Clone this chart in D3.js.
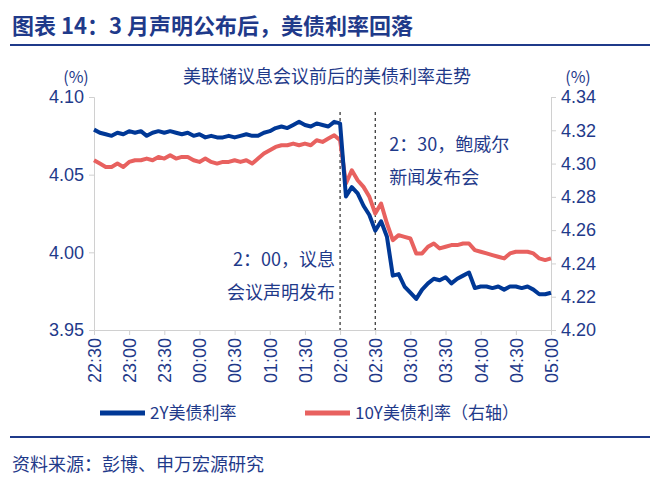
<!DOCTYPE html>
<html><head><meta charset="utf-8">
<script src="https://cdn.jsdelivr.net/npm/d3@7"></script>
<style>body{margin:0;background:#fff}svg{font-family:"Noto Sans CJK SC","Noto Sans",sans-serif}</style>
</head><body><div id="chart"></div>
<script>
// 5-minute samples, 22:30 -> 05:00
const startMin = 22 * 60 + 30;
const stepMin = 5;
const y2 = [4.079,4.077,4.076,4.075,4.077,4.076,4.078,4.077,4.078,4.075,4.077,4.078,4.077,
  4.078,4.077,4.076,4.077,4.075,4.076,4.074,4.075,4.074,4.074,4.075,4.074,
  4.075,4.076,4.075,4.075,4.077,4.078,4.080,4.081,4.080,4.082,4.084,4.082,
  4.081,4.083,4.082,4.081,4.084,4.083,
  4.036,4.042,4.038,4.030,4.024,4.014,4.020,4.010,3.985,3.986,3.978,3.974,3.970,3.976,3.980,3.983,3.982,
  3.984,3.980,3.983,3.985,3.987,3.977,3.978,3.978,3.977,3.978,3.976,3.978,3.978,
  3.977,3.978,3.976,3.973,3.973,3.974];
const y10 = [4.302,4.300,4.298,4.298,4.300,4.298,4.301,4.302,4.302,4.303,4.302,4.304,4.303,
  4.305,4.303,4.304,4.304,4.302,4.301,4.303,4.301,4.300,4.301,4.301,4.302,
  4.301,4.302,4.300,4.303,4.306,4.308,4.310,4.311,4.311,4.312,4.311,4.312,
  4.311,4.314,4.313,4.315,4.317,4.314,
  4.288,4.296,4.290,4.286,4.280,4.270,4.276,4.264,4.254,4.257,4.256,4.255,4.246,4.246,4.250,4.252,4.249,
  4.250,4.251,4.251,4.252,4.252,4.248,4.247,4.246,4.245,4.244,4.243,4.246,4.247,
  4.247,4.247,4.246,4.243,4.242,4.243];
const xTicks = ["22:30","23:00","23:30","00:00","00:30","01:00","01:30","02:00","02:30","03:00","03:30","04:00","04:30","05:00"];
const leftTicks = [3.95, 4.00, 4.05, 4.10];
const rightTicks = [4.20, 4.22, 4.24, 4.26, 4.28, 4.30, 4.32, 4.34];
const events = [{t: 210, lines: ["2：00，议息", "会议声明发布"], side: "left"},
                {t: 240, lines: ["2：30，鲍威尔", "新闻发布会"], side: "right"}];

const W = 659, H = 490, navy = "#1F3A8A", blue = "#003896", red = "#E8615F";
const svg = d3.select("#chart").append("svg").attr("width", W).attr("height", H);

svg.append("text").attr("x", 12).attr("y", 34).text("图表 14：3 月声明公布后，美债利率回落")
  .attr("fill", navy).style("font-size", "22px").style("font-weight", "bold");
svg.append("line").attr("x1", 10).attr("x2", 650).attr("y1", 45).attr("y2", 45).attr("stroke", navy).attr("stroke-width", 2);
svg.append("line").attr("x1", 10).attr("x2", 650).attr("y1", 437).attr("y2", 437).attr("stroke", navy).attr("stroke-width", 2);
svg.append("text").attr("x", 12).attr("y", 471).text("资料来源：彭博、申万宏源研究")
  .attr("fill", navy).style("font-size", "18px");

const x = d3.scaleLinear().domain([0, 390]).range([94, 551]);
const yl = d3.scaleLinear().domain([3.95, 4.10]).range([330, 97]);
const yr = d3.scaleLinear().domain([4.20, 4.34]).range([330, 97]);

svg.append("text").attr("x", 327).attr("y", 83).attr("text-anchor", "middle")
  .text("美联储议息会议前后的美债利率走势").attr("fill", navy).style("font-size", "18px");
svg.append("text").attr("x", 76).attr("y", 83).attr("text-anchor", "middle").text("(%)").attr("fill", navy).style("font-size", "16px");
svg.append("text").attr("x", 578).attr("y", 83).attr("text-anchor", "middle").text("(%)").attr("fill", navy).style("font-size", "16px");

const axL = svg.append("g").attr("transform", "translate(94,0)")
  .call(d3.axisLeft(yl).tickValues(leftTicks).tickFormat(d3.format(".2f")).tickSize(5).tickPadding(5));
const axR = svg.append("g").attr("transform", "translate(551,0)")
  .call(d3.axisRight(yr).tickValues(rightTicks).tickFormat(d3.format(".2f")).tickSize(5).tickPadding(5));
const axB = svg.append("g").attr("transform", "translate(0,330)")
  .call(d3.axisBottom(x).tickValues(d3.range(0, 391, 30)).tickFormat((d, i) => xTicks[i]).tickSize(5));
axB.selectAll("text").attr("transform", "rotate(-90)").attr("text-anchor", "end")
  .attr("x", -8).attr("y", 0).attr("dy", "0.35em");
[axL, axR, axB].forEach(a => {
  a.selectAll("path,line").attr("stroke", "#d0d0d0");
  a.selectAll("text").attr("fill", navy).style("font-size", "18px").style("font-family", "Liberation Sans, Arial, sans-serif");
});

events.forEach(e => {
  svg.append("line").attr("x1", x(e.t)).attr("x2", x(e.t)).attr("y1", 112).attr("y2", 330)
    .attr("stroke", "#000").attr("stroke-dasharray", "3,3");
  const tx = e.side === "left" ? x(e.t) - 5 : x(e.t) + 14;
  const ty = e.side === "left" ? 266 : 151;
  e.lines.forEach((s, i) => svg.append("text").attr("x", tx).attr("y", ty + i * 33)
    .attr("text-anchor", e.side === "left" ? "end" : "start").text(s)
    .attr("fill", navy).style("font-size", "18px"));
});

const t = (d, i) => x(i * stepMin);
svg.append("path").datum(y10).attr("fill", "none").attr("stroke", red).attr("stroke-width", 4)
  .attr("stroke-linejoin", "round").attr("d", d3.line().x(t).y(d => yr(d)));
svg.append("path").datum(y2).attr("fill", "none").attr("stroke", blue).attr("stroke-width", 4)
  .attr("stroke-linejoin", "round").attr("d", d3.line().x(t).y(d => yl(d)));

const legend = [{label: "2Y美债利率", c: blue, x: 100}, {label: "10Y美债利率（右轴）", c: red, x: 305}];
legend.forEach(l => {
  svg.append("line").attr("x1", l.x).attr("x2", l.x + 45).attr("y1", 413).attr("y2", 413).attr("stroke", l.c).attr("stroke-width", 5);
  svg.append("text").attr("x", l.x + 50).attr("y", 419).text(l.label).attr("fill", navy).style("font-size", "17px");
});
</script></body></html>
